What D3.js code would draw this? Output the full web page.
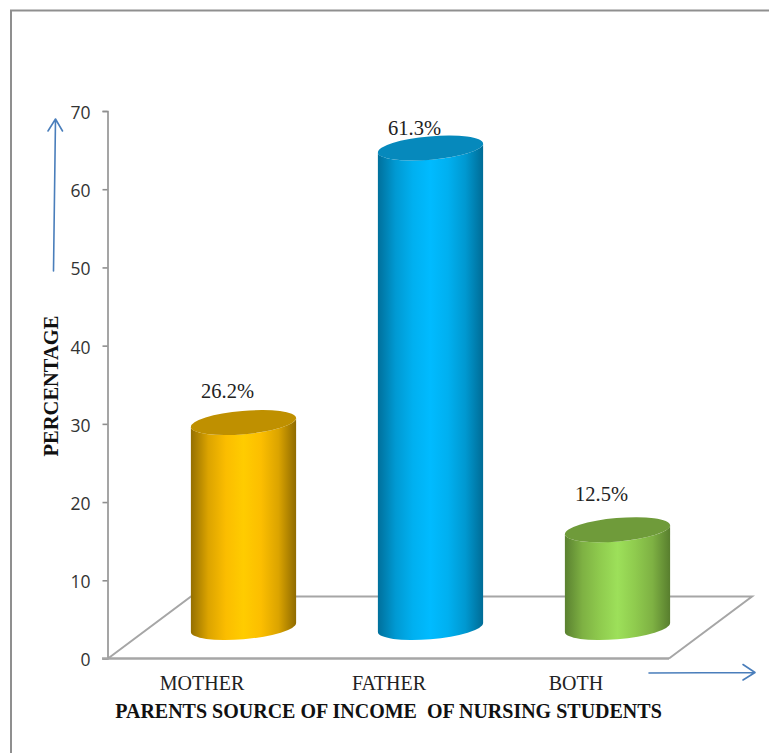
<!DOCTYPE html>
<html>
<head>
<meta charset="utf-8">
<script src="https://cdn.jsdelivr.net/npm/d3@7"></script>
<style>
html,body{margin:0;padding:0;background:#fff;}
svg{display:block;}
</style>
</head>
<body>
<svg id="chart" width="769" height="753"></svg>
<script>
// Parents' source of income, percentage of nursing students
const categories = ["MOTHER", "FATHER", "BOTH"];
const percentages = [26.2, 61.3, 12.5];
const valueTicks = [0, 10, 20, 30, 40, 50, 60, 70];
const sideStops = [
  ["#946f00", "#dca400", "#fbbd00", "#ffcc00", "#fcbe00", "#dba400", "#8f6b00"],
  ["#00709c", "#0099d2", "#00b0f0", "#00bbff", "#00b0f0", "#0098d0", "#006c96"],
  ["#5a8130", "#7eb143", "#8fcb4e", "#9de05a", "#8fcb4e", "#7eb143", "#587e2e"]
];
const capColors = ["#bf9000", "#0689bc", "#6f9b3a"];
const labelLift = [25, 13, 29];

const svg = d3.select("#chart");
const width = 769, height = 753;
const gray = "#8f8f8f";

const y = d3.scaleLinear().domain([0, 70]).range([658.5, 111]);
const x = d3.scaleBand().domain(categories).range([150, 711]).paddingInner(0.44).paddingOuter(0.22);

// The floor of the 3D plot: depth is a fixed skew up and to the right
const depthX = 83, depthY = -62;
const floorLeft = 108, floorRight = 669;
const baseShift = depthY / 2;

// Outer frame, open on the right and at the bottom
svg.append("path")
  .attr("d", `M11,${height}V10.5H${width}`)
  .attr("fill", "none").attr("stroke", gray).attr("stroke-width", 2);

// Floor outline
svg.append("path")
  .attr("d", `M${floorLeft},${y(0)}L${floorLeft + depthX},${y(0) + depthY}H${floorRight + depthX}L${floorRight},${y(0)}`)
  .attr("fill", "none").attr("stroke", "#a6a6a6").attr("stroke-width", 2);

// Value axis
const yAxis = svg.append("g")
  .attr("transform", "translate(107.5,0)")
  .call(d3.axisLeft(y).tickValues(valueTicks).tickSize(5).tickSizeOuter(5).tickPadding(12));
yAxis.selectAll("path,line").attr("stroke", gray).attr("stroke-width", 1.6);
yAxis.selectAll("text")
  .attr("font-family", "'Open Sans', sans-serif")
  .attr("font-size", 17.5).attr("fill", "#333")
  .attr("dy", "0.42em");

// Front edge of the floor
svg.append("line")
  .attr("x1", 102).attr("x2", floorRight)
  .attr("y1", y(0)).attr("y2", y(0))
  .attr("stroke", "#a6a6a6").attr("stroke-width", 2.4);

// Category axis, labels only, aligned with the front of the floor
const xAxis = svg.append("g")
  .attr("transform", `translate(${-depthX / 2},${y(0) + 17})`)
  .call(d3.axisBottom(x).tickSize(0).tickPadding(0));
xAxis.select("path").remove();
xAxis.selectAll("text")
  .attr("font-family", "'Liberation Serif', serif")
  .attr("font-size", 20).attr("fill", "#222");

// Horizontal shading for each cylinder
const defs = svg.append("defs");
sideStops.forEach((stops, i) => {
  const grad = defs.append("linearGradient").attr("id", `side${i}`);
  stops.forEach((c, k) => grad.append("stop")
    .attr("offset", k / (stops.length - 1)).attr("stop-color", c));
});

// Tilted ellipse shared by cylinder tops and bases
const tilt = 5 * Math.PI / 180;
const rx = 52.8, ry = 11.7;
const halfW = Math.sqrt(rx * rx * Math.cos(tilt) ** 2 + ry * ry * Math.sin(tilt) ** 2);
const dropAtEdge = (rx * rx - ry * ry) * Math.sin(tilt) * Math.cos(tilt) / halfW;
const arc = `A${rx},${ry} -5 0`;

const bars = svg.selectAll("g.bar")
  .data(categories.map((name, i) => ({ name, value: percentages[i], i })))
  .join("g").attr("class", "bar");

bars.append("path")
  .attr("fill", d => `url(#side${d.i})`)
  .attr("d", d => {
    const cx = x(d.name) + x.bandwidth() / 2;
    const top = y(d.value) + baseShift, base = y(0) + baseShift;
    return `M${cx - halfW},${top + dropAtEdge}L${cx - halfW},${base + dropAtEdge}` +
      `${arc} 0 ${cx + halfW},${base - dropAtEdge}L${cx + halfW},${top - dropAtEdge}` +
      `${arc} 1 ${cx - halfW},${top + dropAtEdge}Z`;
  });

bars.append("ellipse")
  .attr("rx", rx).attr("ry", ry)
  .attr("fill", d => capColors[d.i])
  .attr("transform", d => {
    const cx = x(d.name) + x.bandwidth() / 2;
    return `translate(${cx},${y(d.value) + baseShift}) rotate(-5)`;
  });

// Value labels sit above and slightly left of each cap
bars.append("text")
  .attr("x", d => x(d.name) + x.bandwidth() / 2 - 16)
  .attr("y", d => y(d.value) + baseShift - labelLift[d.i])
  .attr("text-anchor", "middle")
  .attr("font-family", "'Liberation Serif', serif")
  .attr("font-size", 20.5).attr("fill", "#222")
  .text(d => `${d.value}%`);

// Axis titles
svg.append("text")
  .attr("x", 388.5).attr("y", 718)
  .attr("text-anchor", "middle")
  .style("white-space", "pre")
  .attr("font-family", "'Liberation Serif', serif")
  .attr("font-weight", "bold").attr("font-size", 20).attr("fill", "#111")
  .text("PARENTS SOURCE OF INCOME  OF NURSING STUDENTS");

svg.append("text")
  .attr("transform", "translate(58,386) rotate(-90)")
  .attr("text-anchor", "middle")
  .attr("font-family", "'Liberation Serif', serif")
  .attr("font-weight", "bold").attr("font-size", 20.5).attr("fill", "#111")
  .text("PERCENTAGE");

// Direction arrows beside the axes
const arrowStyle = s => s.attr("fill", "none").attr("stroke", "#4a7ebb")
  .attr("stroke-width", 1.6).attr("stroke-linecap", "round").attr("stroke-linejoin", "round");
svg.append("path").attr("d", "M53.5,271L55.5,119M48,131L55.5,119L62.5,131").call(arrowStyle);
svg.append("path").attr("d", "M649,673L755,672.5M743,664.5L755,672.5L743,680").call(arrowStyle);
</script>
</body>
</html>
